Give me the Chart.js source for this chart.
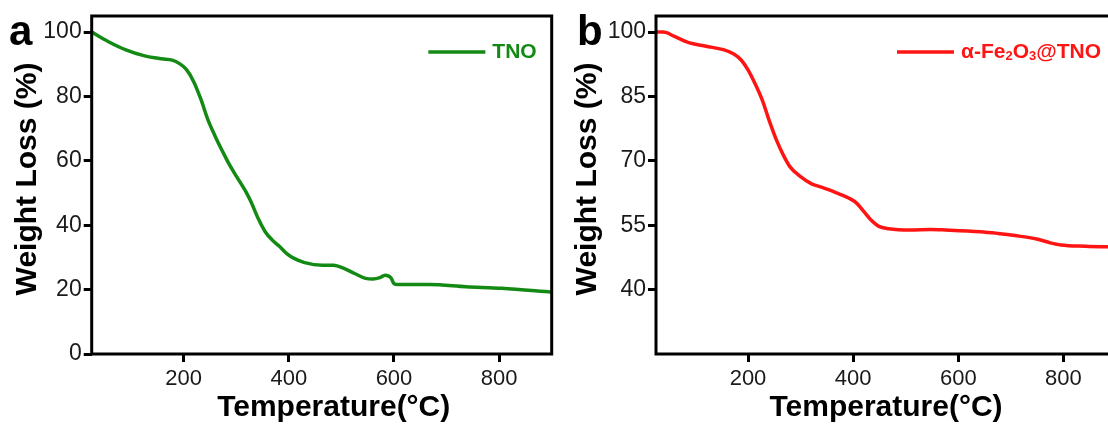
<!DOCTYPE html>
<html>
<head>
<meta charset="utf-8">
<script src="https://cdn.jsdelivr.net/npm/chart.js@4/dist/chart.umd.min.js"></script>
<style>
  html, body { margin: 0; padding: 0; width: 1108px; height: 425px; overflow: hidden; background: #ffffff; }
  .panel { position: absolute; top: 0; }
  #wrapA { left: 0; }
  #wrapB { left: 560px; }
</style>
</head>
<body>
<div class="panel" id="wrapA"><canvas id="chartA" width="560" height="425"></canvas></div>
<div class="panel" id="wrapB"><canvas id="chartB" width="570" height="425"></canvas></div>
<script>
// TGA curve of TNO (temperature in °C, remaining weight in %)
const tnoTemp   = [25, 56, 90, 124, 158, 178, 192, 205, 219, 233, 246, 260, 274, 287, 301, 314, 321, 328, 342, 355, 369, 383, 396, 410, 430, 464, 485, 505, 525, 546, 560, 573, 583, 594, 600, 607, 668, 737, 805, 900];
const tnoWeight = [100, 97.1, 94.5, 92.7, 91.7, 91.3, 90.2, 88.4, 84.6, 79.0, 72.8, 67.6, 62.9, 58.8, 55.0, 51.6, 49.6, 47.3, 42.0, 38.0, 35.3, 33.3, 31.2, 29.7, 28.4, 27.6, 27.6, 26.6, 25.0, 23.5, 23.3, 23.7, 24.5, 23.7, 21.9, 21.6, 21.6, 20.9, 20.4, 19.2];

// TGA curve of α-Fe2O3@TNO
const feTemp   = [25, 39, 60, 86, 120, 153, 173, 187, 200, 213, 227, 240, 254, 267, 280, 300, 320, 341, 367, 394, 407, 421, 434, 448, 468, 508, 548, 575, 642, 675, 708, 749, 775, 795, 842, 900];
const feWeight = [100, 100, 99.0, 97.6, 96.7, 95.9, 94.9, 93.5, 91.2, 88.1, 84.2, 79.5, 74.9, 71.4, 68.6, 66.3, 64.7, 63.8, 62.6, 61.2, 60.1, 58.1, 56.2, 54.8, 54.2, 53.9, 54.0, 53.9, 53.5, 53.1, 52.6, 51.8, 50.9, 50.4, 50.1, 49.9];

// Axis ticks
const xTicks  = [200, 400, 600, 800];
const yTicksA = [0, 20, 40, 60, 80, 100];
const yTicksB = [40, 55, 70, 85, 100];

const X_TITLE = 'Temperature(°C)';
const Y_TITLE = 'Weight Loss (%)';

const FONT = "'Liberation Sans', Arial, Helvetica, sans-serif";
const GREEN = '#138a13';
const RED = '#ff1414';

// Draws a string where Unicode subscript digits are rendered as small lowered digits
function drawRichText(ctx, text, x, y, size) {
  let cx = x;
  for (const ch of text) {
    const code = ch.charCodeAt(0);
    if (code >= 0x2080 && code <= 0x2089) {
      const d = String.fromCharCode(code - 0x2080 + 48);
      ctx.font = `bold ${Math.round(size * 0.62)}px ${FONT}`;
      ctx.fillText(d, cx, y + size * 0.22);
      cx += ctx.measureText(d).width;
    } else {
      ctx.font = `bold ${size}px ${FONT}`;
      ctx.fillText(ch, cx, y);
      cx += ctx.measureText(ch).width;
    }
  }
  return cx - x;
}
function measureRichText(ctx, text, size) {
  let w = 0;
  for (const ch of text) {
    const code = ch.charCodeAt(0);
    if (code >= 0x2080 && code <= 0x2089) {
      ctx.font = `bold ${Math.round(size * 0.62)}px ${FONT}`;
      w += ctx.measureText(String.fromCharCode(code - 0x2080 + 48)).width;
    } else {
      ctx.font = `bold ${size}px ${FONT}`;
      w += ctx.measureText(ch).width;
    }
  }
  return w;
}

// Frame around the plot area, axis titles, inline legend and panel letter
const panelDecor = {
  id: 'panelDecor',
  afterDatasetsDraw(chart, args, opts) {
    const { ctx, chartArea: a } = chart;
    ctx.save();
    ctx.strokeStyle = '#000';
    ctx.lineWidth = 3;
    ctx.strokeRect(a.left, a.top, a.right - a.left, a.bottom - a.top);

    // axis titles
    ctx.fillStyle = '#000';
    ctx.font = `bold 30px ${FONT}`;
    ctx.textAlign = 'center';
    ctx.textBaseline = 'middle';
    ctx.fillText(X_TITLE, (a.left + a.right) / 2 + opts.xTitleShift, 408);
    ctx.save();
    ctx.translate(28, (a.top + a.bottom) / 2 - 6);
    ctx.rotate(-Math.PI / 2);
    ctx.fillText(Y_TITLE, 0, 0);
    ctx.restore();

    // legend: line sample + label, right-aligned inside the plot
    const ds = chart.data.datasets[0];
    const size = 21;
    const textW = measureRichText(ctx, ds.label, size);
    const textEnd = a.right - 15;
    const textStart = textEnd - textW;
    const ly = a.top + 36;
    ctx.strokeStyle = ds.borderColor;
    ctx.lineWidth = 3.5;
    ctx.beginPath();
    ctx.moveTo(textStart - 64, ly);
    ctx.lineTo(textStart - 7, ly);
    ctx.stroke();
    ctx.fillStyle = ds.borderColor;
    ctx.textBaseline = 'middle';
    ctx.textAlign = 'left';
    drawRichText(ctx, ds.label, textStart, ly, size);

    // panel letter
    ctx.fillStyle = '#000';
    ctx.textBaseline = 'alphabetic';
    ctx.font = `bold 42px ${FONT}`;
    ctx.fillText(opts.letter, opts.letterX, 45);
    ctx.restore();
  }
};

function makeChart(id, label, temps, weights, color, yMin, yMax, yTicks, deco, leftWidth, rightPad) {
  return new Chart(document.getElementById(id), {
    type: 'line',
    data: {
      datasets: [{
        label: label,
        data: temps.map((t, i) => ({ x: t, y: weights[i] })),
        borderColor: color,
        borderWidth: 3.5,
        pointRadius: 0,
        cubicInterpolationMode: 'monotone',
        fill: false
      }]
    },
    options: {
      responsive: false,
      animation: false,
      layout: { padding: { top: 16, right: rightPad, left: 0, bottom: 0 } },
      plugins: {
        legend: { display: false },
        tooltip: { enabled: false },
        panelDecor: deco
      },
      scales: {
        x: {
          type: 'linear',
          min: 25,
          max: 900,
          afterBuildTicks: s => { s.ticks = xTicks.map(v => ({ value: v })); },
          afterFit: s => { s.height = 71; },
          grid: { drawOnChartArea: false, drawTicks: true, tickLength: 8, lineWidth: 3, color: '#000' },
          border: { display: false },
          ticks: { font: { family: FONT, size: 22 }, color: '#1a1a1a', padding: 4, maxRotation: 0 },
          title: { display: false }
        },
        y: {
          type: 'linear',
          min: yMin,
          max: yMax,
          afterBuildTicks: s => { s.ticks = yTicks.map(v => ({ value: v })); },
          afterFit: s => { s.width = leftWidth; },
          grid: { drawOnChartArea: false, drawTicks: true, tickLength: 8, lineWidth: 3, color: '#000' },
          border: { display: false },
          ticks: { font: { family: FONT, size: 23 }, color: '#1a1a1a', padding: 2 },
          title: { display: false }
        }
      }
    },
    plugins: [panelDecor]
  });
}

makeChart('chartA', 'TNO', tnoTemp, tnoWeight, GREEN, 0, 105, yTicksA,
          { letter: 'a', letterX: 9, xTitleShift: 12 }, 91.7, 8.3);
makeChart('chartB', 'α-Fe₂O₃@TNO', feTemp, feWeight, RED, 25, 103.75, yTicksB,
          { letter: 'b', letterX: 17, xTitleShift: 0 }, 96, 14);
</script>
</body>
</html>
